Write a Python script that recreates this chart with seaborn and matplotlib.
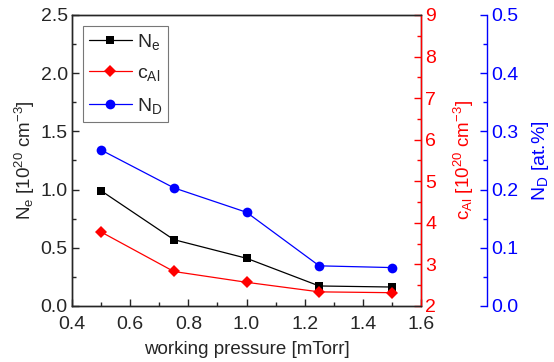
"""Ne, c_Al and N_D versus working pressure, three y axes."""
import pandas as pd
import matplotlib
matplotlib.use('Agg')
import matplotlib.pyplot as plt
from matplotlib.ticker import MultipleLocator
import seaborn as sns

pressure = [0.5, 0.75, 1.0, 1.25, 1.5]
n_e = [0.99, 0.57, 0.41, 0.172, 0.163]
c_al = [3.78, 2.83, 2.57, 2.34, 2.32]
n_d = [0.268, 0.203, 0.161, 0.069, 0.066]

sns.set_style('ticks')
plt.rcParams['font.family'] = ['Liberation Sans', 'DejaVu Sans']
plt.rcParams['mathtext.fontset'] = 'custom'
plt.rcParams['mathtext.rm'] = 'Liberation Sans'
plt.rcParams['mathtext.it'] = 'Liberation Sans'
plt.rcParams['mathtext.default'] = 'regular'

RED = '#ff0000'
BLUE = '#0000ff'
FS = 14
LFS = 13.5

df = pd.DataFrame({'p': pressure, 'ne': n_e, 'cal': c_al, 'nd': n_d})

fig = plt.figure(figsize=(5.54, 3.62), dpi=100)
ax = fig.add_axes([0.130, 0.1547, 0.630, 0.804])
ax2 = ax.twinx()
ax3 = ax.twinx()
ax3.spines['right'].set_position(('axes', 1.189))

sns.lineplot(data=df, x='p', y='ne', ax=ax, color='black', marker='s',
             markersize=6, markeredgewidth=0, linewidth=0.9, label=r'N$_e$', legend=False)
sns.lineplot(data=df, x='p', y='cal', ax=ax2, color=RED, marker='D',
             markersize=6, markeredgewidth=0, linewidth=0.9, label=r'c$_{Al}$', legend=False)
sns.lineplot(data=df, x='p', y='nd', ax=ax3, color=BLUE, marker='o',
             markersize=7, markeredgewidth=0, linewidth=0.9, label=r'N$_D$', legend=False)

ax.set_xlim(0.4, 1.6)
ax.set_ylim(0, 2.5)
ax2.set_ylim(2, 9)
ax3.set_ylim(0, 0.5)

ax.xaxis.set_major_locator(MultipleLocator(0.2))
ax.xaxis.set_minor_locator(MultipleLocator(0.1))
ax.yaxis.set_major_locator(MultipleLocator(0.5))
ax.yaxis.set_minor_locator(MultipleLocator(0.25))
ax2.yaxis.set_major_locator(MultipleLocator(1))
ax2.yaxis.set_minor_locator(MultipleLocator(0.5))
ax3.yaxis.set_major_locator(MultipleLocator(0.1))
ax3.yaxis.set_minor_locator(MultipleLocator(0.05))

ax.xaxis.set_major_formatter(plt.FormatStrFormatter('%.1f'))
ax.yaxis.set_major_formatter(plt.FormatStrFormatter('%.1f'))
ax3.yaxis.set_major_formatter(plt.FormatStrFormatter('%.1f'))

ax.set_xlabel('working pressure [mTorr]', fontsize=LFS, labelpad=6)
ax.set_ylabel(r'N$_e$ [10$^{20}$ cm$^{-3}$]', fontsize=LFS, labelpad=3)
ax2.set_ylabel(r'c$_{Al}$ [10$^{20}$ cm$^{-3}$]', fontsize=LFS, color=RED, labelpad=11)
ax3.set_ylabel(r'N$_D$ [at.%]', fontsize=LFS + 0.5, color=BLUE, labelpad=8)

ax.tick_params(axis='both', which='both', direction='in', labelsize=FS, pad=3)
ax.tick_params(axis='x', which='major', pad=7)
ax.tick_params(which='major', length=5, width=1)
ax.tick_params(which='minor', length=3, width=1)
ax.tick_params(axis='x', top=False, which='both')
ax2.tick_params(axis='y', which='both', direction='in', colors=RED, labelsize=FS, pad=3)
ax2.tick_params(which='major', length=5, width=1)
ax2.tick_params(which='minor', length=3, width=1)
ax3.tick_params(axis='y', which='both', direction='in', colors=BLUE, labelsize=FS, pad=3)
ax3.tick_params(which='major', length=5, width=1)
ax3.tick_params(which='minor', length=3, width=1)

for a in (ax, ax2, ax3):
    for s in a.spines.values():
        s.set_linewidth(1)
ax2.spines['right'].set_color(RED)
ax3.spines['right'].set_color(BLUE)
ax3.spines['top'].set_visible(False)
ax3.spines['left'].set_visible(False)
ax3.spines['bottom'].set_visible(False)

handles = []
labels = []
for a in (ax, ax2, ax3):
    h, l = a.get_legend_handles_labels()
    handles += h
    labels += l
leg = ax3.legend(handles, labels, loc='upper left', bbox_to_anchor=(0.032, 0.962),
                 fontsize=FS, frameon=True, fancybox=False, handlelength=2.2,
                 borderpad=0.3, labelspacing=0.65, handletextpad=0.25,
                 borderaxespad=0)
leg.get_frame().set_edgecolor('#555555')
leg.get_frame().set_linewidth(0.8)

fig.savefig('out.png', dpi=100)
